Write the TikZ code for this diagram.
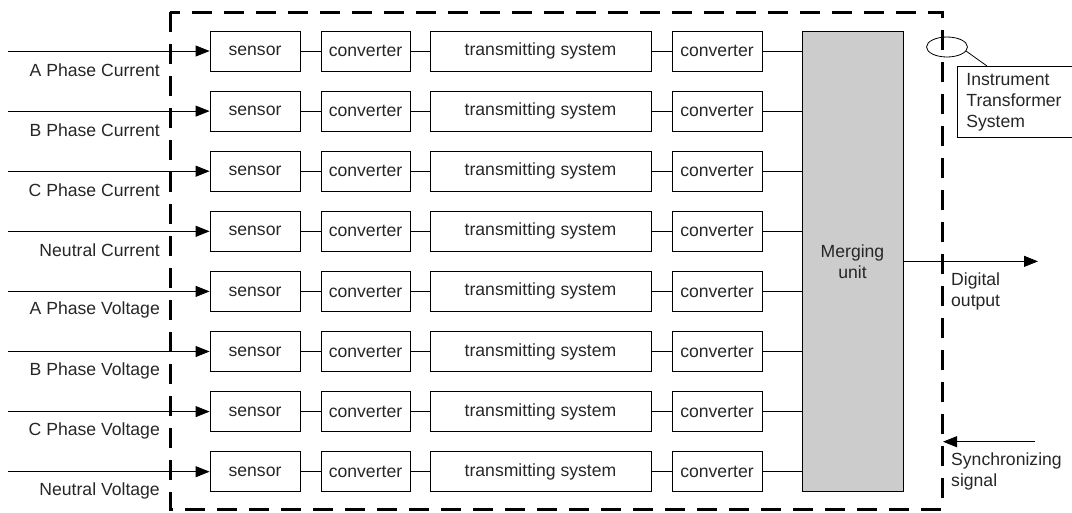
\documentclass[tikz,border=0pt]{standalone}
\usepackage{fontspec}
\setmainfont{Liberation Sans}
\usetikzlibrary{arrows.meta,shapes.geometric}
\begin{document}
\begin{tikzpicture}[x=1pt,y=-1pt,
  every node/.style={font=\fontsize{17.6}{21}\selectfont, text=black!85},
  blk/.style={draw, line width=0.8pt, minimum height=40pt, inner sep=0pt},
  conn/.style={line width=0.8pt},
  sig/.style={line width=0.8pt, -{Triangle[length=14pt,width=11pt]}},
  frame/.style={line width=3pt, dash pattern=on 20pt off 12pt}]
\useasboundingbox (0,0) rectangle (1072,512);
% merging unit
\node[draw, line width=0.8pt, fill=black!20, minimum width=101pt, minimum height=460.7pt, inner sep=0pt, align=center] (mu) at (852.5,261.35) {Merging\\unit};
\foreach \lab [count=\i from 0] in {A Phase Current,B Phase Current,C Phase Current,Neutral Current,A Phase Voltage,B Phase Voltage,C Phase Voltage,Neutral Voltage}{
  \pgfmathsetmacro{\yy}{51+60.1*\i}
  \node[blk, minimum width=90pt] (s\i) at (255,\yy) {sensor};
  \node[blk, minimum width=89pt] (c\i) at (365.5,\yy) {converter};
  \node[blk, minimum width=221pt] (t\i) at (540.5,\yy) {transmitting system};
  \node[blk, minimum width=90pt] (d\i) at (717,\yy) {converter};
  \coordinate (in\i) at (8,\yy);
  \node[anchor=east, inner sep=0pt] (l\i) at (160,\yy+19) {\lab};
  \draw[sig] (in\i) -- (s\i.west);
  \draw[conn] (s\i) -- (c\i);
  \draw[conn] (c\i) -- (t\i);
  \draw[conn] (t\i) -- (d\i);
  \draw[conn] (d\i.east) -- (d\i.east -| mu.west);
}
% frame
\draw[frame] (170,12) rectangle (942,509);
% instrument transformer system
\node[draw, ellipse, line width=0.8pt, minimum width=41pt, minimum height=20pt, inner sep=0pt] (el) at (947,47) {};
\node[draw, line width=0.8pt, fill=white, anchor=north west, minimum width=116pt, minimum height=71pt, text width=100pt, inner xsep=9pt, align=left] (its) at (957,66) {Instrument\\Transformer\\System};
\coordinate (elp) at (966,51);
\draw[line width=0.8pt] (elp) -- (987,66);
% digital output
\coordinate (dout) at (1038,261.35);
\draw[sig] (mu.east |- dout) -- (dout);
\node[anchor=west, align=left, inner sep=0pt] (dl) at (951,291) {Digital\\output};
% sync
\coordinate (syncs) at (1035,441.7);
\coordinate (synce) at (943,441.7);
\draw[sig] (syncs) -- (synce);
\node[anchor=west, align=left, inner sep=0pt] (sl) at (951,471.7) {Synchronizing\\signal};
\end{tikzpicture}
\end{document}
